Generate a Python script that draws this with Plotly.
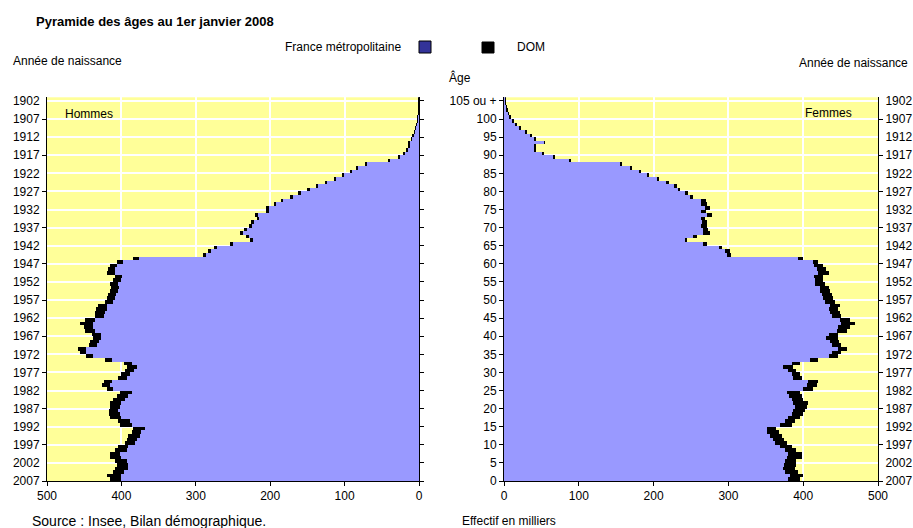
import plotly.graph_objects as go

W, H = 913, 528

# ---------------- data (effectifs en milliers, âge 0 .. 105 ou +) ----------------
ages = list(range(106))

hommes_metro = [
    400, 401, 397, 391, 391, 393, 400, 402, 393, 391,   # 0-9
    382, 379, 375, 373, 368, 386, 388, 400, 402, 404,   # 10-19
    402, 400, 395, 391, 386, 411, 415, 413, 393, 388,   # 20-29
    383, 379, 386, 413, 438, 447, 448, 433, 430, 427,   # 30-39
    427, 435, 438, 438, 435, 424, 422, 420, 420, 411,   # 40-49
    409, 407, 405, 403, 404, 400, 399, 409, 408, 406,   # 50-59
    398, 377, 286, 280, 272, 250, 223, 228, 236, 231,   # 60-69
    224, 222, 215, 217, 202, 202, 192, 183, 170, 159,   # 70-79
    147, 136, 124, 112, 101, 91, 83, 71, 39, 26,        # 80-89
    20, 16, 13, 13, 10, 8, 6, 4.5, 3, 2,                # 90-99
    1.5, 1, 0.7, 0.4, 0.3, 0.3,                         # 100-105+
]
hommes_dom = [
    15, 18, 14, 18, 15, 16, 15, 14, 16, 13,
    13, 14, 16, 13, 16, 16, 16, 15, 15, 13,
    14, 15, 16, 15, 16, 9, 11, 11, 11, 12,
    12, 14, 11, 9, 10, 9, 10, 11, 12, 11,
    13, 14, 12, 18, 14, 12, 13, 14, 11, 11,
    11, 11, 10, 11, 11, 11, 10, 10, 10, 9,
    8, 7, 5, 4, 4, 4, 4, 4, 4, 4,
    4, 4, 3, 4, 3, 3, 3, 3, 3, 3,
    3, 3, 3, 2, 2, 2, 2, 2, 1.5, 1,
    1, 0.8, 0.6, 0.6, 0.5, 0.4, 0.3, 0.2, 0.2, 0.1,
    0.1, 0.1, 0.1, 0.1, 0.1, 0.1,
]
femmes_metro = [
    380, 382, 376, 373, 374, 376, 378, 380, 376, 369,
    362, 360, 356, 352, 351, 369, 376, 380, 385, 387,
    389, 387, 385, 381, 378, 400, 405, 407, 387, 385,
    380, 373, 385, 409, 434, 438, 447, 438, 436, 431,
    434, 445, 447, 451, 449, 438, 436, 434, 436, 429,
    427, 425, 422, 422, 416, 416, 414, 420, 418, 414,
    413, 393, 298, 296, 287, 266, 242, 252, 266, 266,
    264, 265, 264, 271, 264, 269, 264, 264, 249, 242,
    232, 227, 217, 204, 191, 180, 168, 155, 88, 66,
    51, 41, 41, 54, 41, 36, 29, 21, 16, 12,
    8, 5.5, 4, 3, 2, 1.5,
]
femmes_dom = [
    16, 18, 17, 16, 16, 15, 20, 18, 15, 16,
    16, 14, 15, 15, 13, 16, 13, 16, 15, 15,
    16, 20, 15, 17, 18, 13, 13, 13, 11, 11,
    11, 14, 11, 11, 13, 13, 12, 13, 12, 16,
    13, 13, 16, 18, 14, 13, 13, 13, 13, 13,
    13, 13, 14, 12, 13, 11, 13, 14, 13, 13,
    7, 7, 6, 6, 5, 6, 3, 6, 9, 7,
    7, 6, 5, 7, 6, 6, 7, 6, 4, 4,
    3, 4, 3, 3, 3, 3, 3, 3, 2, 2,
    2, 1.5, 1.5, 0.3, 1, 1, 1, 0.5, 0.5, 0.4,
    0.3, 0.2, 0.2, 0.1, 0.1, 0.1,
]

age_ticks = list(range(0, 106, 5))
age_ticktext = [str(a) for a in age_ticks[:-1]] + ["105 ou +"]
year_ticktext = [str(2007 - a) for a in age_ticks]
year_tickmarks = list(range(0, 101, 10))
x_ticks = [0, 100, 200, 300, 400, 500]

METRO = "#9999FF"
DOM = "#000000"
BG = "#FFFF99"
FONT = "Liberation Sans, Arial, sans-serif"
CLEAR = "rgba(0,0,0,0)"


def px(x):
    return x / W


def py(y):
    return 1 - y / H


fig = go.Figure()

# Hommes (left)
fig.add_trace(go.Bar(y=ages, x=hommes_metro, orientation="h", xaxis="x", yaxis="y2",
                     width=1, offset=0, marker=dict(color=METRO, line=dict(width=0)),
                     name="France métropolitaine", showlegend=False))
fig.add_trace(go.Bar(y=ages, x=hommes_dom, orientation="h", xaxis="x", yaxis="y2",
                     width=1, offset=0, marker=dict(color=DOM, line=dict(width=0)),
                     name="DOM", showlegend=False))
# Femmes (right)
fig.add_trace(go.Bar(y=ages, x=femmes_metro, orientation="h", xaxis="x2", yaxis="y",
                     width=1, offset=0, marker=dict(color=METRO, line=dict(width=0)),
                     name="France métropolitaine", showlegend=False))
fig.add_trace(go.Bar(y=ages, x=femmes_dom, orientation="h", xaxis="x2", yaxis="y",
                     width=1, offset=0, marker=dict(color=DOM, line=dict(width=0)),
                     name="DOM", showlegend=False))
# empty traces so the extra (overlaying) axes are drawn
for xa, ya in (("x2", "y3"), ("x", "y4"), ("x2", "y5"), ("x", "y6")):
    fig.add_trace(go.Scatter(x=[None], y=[None], xaxis=xa, yaxis=ya,
                             showlegend=False, hoverinfo="skip"))

ydom = [py(481), py(97.3)]
tickfont = dict(family=FONT, size=12, color="black")

common_x = dict(tickvals=x_ticks, showgrid=True, gridcolor="white", gridwidth=1.5,
                showline=True, linecolor="black", linewidth=1, ticks="outside",
                ticklen=4, tickcolor="black", zeroline=False, tickfont=tickfont,
                fixedrange=True, automargin=False)
common_y = dict(range=[0, 106], domain=ydom, showline=True,
                linecolor="black", linewidth=1, ticks="outside", ticklen=4,
                zeroline=False, tickfont=tickfont, fixedrange=True,
                automargin=False)

fig.update_layout(
    width=W, height=H, autosize=False,
    margin=dict(l=0, r=0, t=0, b=0, pad=0, autoexpand=False),
    paper_bgcolor="white",
    plot_bgcolor=BG,
    barmode="stack",
    showlegend=False,
    font=dict(family=FONT, size=12, color="black"),
    xaxis=dict(domain=[px(47), px(419)], range=[500, 0], anchor="y2", **common_x),
    xaxis2=dict(domain=[px(504), px(878)], range=[0, 500], anchor="y", **common_x),
    # âge (centre)
    yaxis=dict(anchor="x2", side="left", tickvals=age_ticks, ticktext=age_ticktext,
               tickcolor="black", showgrid=True, gridcolor="white", gridwidth=2, **common_y),
    # années, graphique de gauche
    yaxis2=dict(anchor="x", side="left", tickvals=age_ticks, ticktext=year_ticktext,
                tickcolor=CLEAR, showgrid=True, gridcolor="white", gridwidth=2, **common_y),
    # années, graphique de droite
    yaxis3=dict(anchor="x2", side="right", overlaying="y", tickvals=age_ticks,
                ticktext=year_ticktext, tickcolor=CLEAR, showgrid=False, **common_y),
    # tick marks every 10 years on the outer year axes
    yaxis4=dict(anchor="x", side="left", overlaying="y2", tickvals=year_tickmarks,
                showticklabels=False, tickcolor="black", showgrid=False, **common_y),
    yaxis5=dict(anchor="x2", side="right", overlaying="y", tickvals=year_tickmarks,
                showticklabels=False, tickcolor="black", showgrid=False, **common_y),
    # right edge of the left panel
    yaxis6=dict(anchor="x", side="right", overlaying="y2", tickvals=age_ticks,
                showticklabels=False, tickcolor="black", showgrid=False, **common_y),
)

ann = []


def text(x, y, s, size=12, bold=False, anchor="left"):
    ann.append(dict(x=px(x), y=py(y), xref="paper", yref="paper",
                    text=f"<b>{s}</b>" if bold else s,
                    showarrow=False, xanchor=anchor, yanchor="middle",
                    font=dict(family=FONT, size=size, color="black")))


text(34, 22, "Pyramide des âges au 1er janvier 2008", size=13, bold=True)
text(283, 47, "France métropolitaine", size=12)
text(515, 47, "DOM", size=12)
text(11, 61, "Année de naissance", size=12)
text(910, 63, "Année de naissance", size=12, anchor="right")
text(447, 77, "Âge", size=12)
text(63, 114, "Hommes", size=12)
text(854, 113, "Femmes", size=12, anchor="right")
text(30, 521, "Source : Insee, Bilan démographique.", size=14)
text(460, 521, "Effectif en milliers", size=12)

fig.update_layout(annotations=ann)

fig.update_layout(shapes=[
    dict(type="rect", xref="paper", yref="paper", x0=px(419), x1=px(431), y0=py(53), y1=py(41),
         fillcolor="#333399", line=dict(color="black", width=1)),
    dict(type="rect", xref="paper", yref="paper", x0=px(482), x1=px(494), y0=py(53), y1=py(42),
         fillcolor="black", line=dict(color="black", width=1)),
])

post = ("document.body.style.margin='0';document.body.style.padding='0';"
        "document.body.style.overflow='hidden';"
        "document.documentElement.style.overflow='hidden';"
        "var gd=document.getElementById('{plot_id}');"
        "Plotly.relayout(gd,{width:%d,height:%d});" % (W, H))

fig.write_html("out.html", post_script=post, config={"displayModeBar": False, "responsive": False})
